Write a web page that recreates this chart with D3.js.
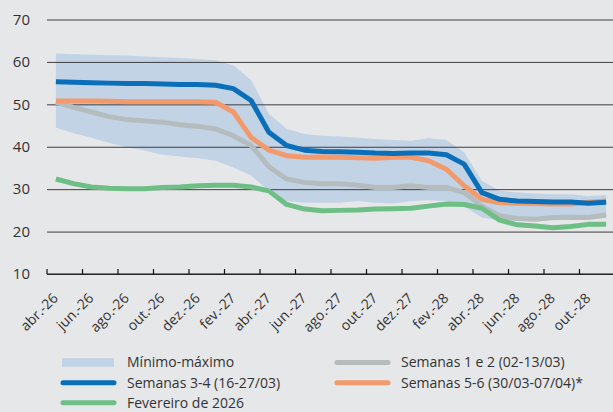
<!DOCTYPE html>
<html><head><meta charset="utf-8">
<script src="https://cdn.jsdelivr.net/npm/d3@7"></script>
<style>
html,body{margin:0;padding:0;background:#e6e7e9;}
svg{display:block;}
text{font-family:"Open Sans","Noto Sans",sans-serif;fill:#333;}
</style></head>
<body><svg id="c" width="613" height="412"></svg>
<script>
const months = ["abr.-26","mai.-26","jun.-26","jul.-26","ago.-26","set.-26","out.-26","nov.-26","dez.-26","jan.-27","fev.-27","mar.-27",
"abr.-27","mai.-27","jun.-27","jul.-27","ago.-27","set.-27","out.-27","nov.-27","dez.-27","jan.-28","fev.-28","mar.-28",
"abr.-28","mai.-28","jun.-28","jul.-28","ago.-28","set.-28","out.-28","nov.-28"];
const tickLabels = ["abr.-26","jun.-26","ago.-26","out.-26","dez.-26","fev.-27","abr.-27","jun.-27","ago.-27","out.-27","dez.-27","fev.-28","abr.-28","jun.-28","ago.-28","out.-28"];
const yTicks = [10,20,30,40,50,60,70];

const bandMax = [62.0,61.8,61.7,61.6,61.5,61.3,61.1,60.9,60.7,60.4,59.2,55.7,47.8,44.2,43.0,42.6,42.4,42.1,41.8,41.6,41.4,42.0,41.6,38.7,32.0,29.6,29.2,29.0,28.8,28.8,28.4,28.6];
const bandMin = [44.5,43.2,42.1,40.9,39.9,39.1,38.1,37.7,37.3,36.7,35.1,33.2,29.6,27.2,26.8,26.8,26.8,27.2,26.8,26.6,27.2,27.4,27.2,26.0,23.3,22.6,22.5,22.5,22.7,22.8,22.9,23.2];
const sem12 = [50.5,49.3,48.2,47.1,46.4,46.1,45.8,45.2,44.8,44.2,42.6,40.3,35.3,32.4,31.6,31.3,31.3,30.9,30.4,30.4,30.8,30.4,30.4,29.2,26.0,23.7,23.1,22.9,23.3,23.4,23.3,23.9];
const sem34 = [55.3,55.2,55.1,55.0,54.9,54.9,54.8,54.7,54.7,54.5,53.7,50.9,43.4,40.3,39.2,38.9,38.8,38.7,38.5,38.4,38.5,38.5,38.1,35.9,29.2,27.6,27.2,27.1,27.0,27.0,26.7,26.9];
const sem56 = [50.8,50.8,50.8,50.7,50.6,50.6,50.6,50.6,50.6,50.5,48.2,42.2,39.2,37.9,37.5,37.6,37.5,37.4,37.3,37.5,37.5,36.7,34.7,30.8,27.6,26.8,26.7,26.6,26.5,26.5,26.9,27.2];
const fev26 = [32.4,31.3,30.5,30.2,30.1,30.1,30.4,30.5,30.8,30.9,30.9,30.5,29.6,26.4,25.3,24.9,25.0,25.1,25.3,25.4,25.5,26.0,26.5,26.4,25.5,22.7,21.6,21.3,20.9,21.2,21.7,21.7];

const legendLabels = ["Mínimo-máximo","Semanas 1 e 2 (02-13/03)","Semanas 3-4 (16-27/03)","Semanas 5-6 (30/03-07/04)*","Fevereiro de 2026"];
const colors = {band:"#c2d3e6", s12:"#b5bcbe", s34:"#0a6fb8", s56:"#f39a6c", fev:"#6dbf85"};

const svg = d3.select("#c");
const x = d3.scaleBand().domain(months).range([47,615]).padding(0);
const cx = d => x(d) + x.bandwidth()/2;
const y = d3.scaleLinear().domain([10,70]).range([274,19.5]);

// band
const area = d3.area().x((d,i)=>cx(months[i])).y0((d,i)=>y(bandMin[i])).y1(d=>y(d));
svg.append("path").datum(bandMax).attr("d",area).attr("fill",colors.band);

// gridlines
const yAxis = d3.axisLeft(y).tickValues(yTicks).tickSize(-(613-47)).tickPadding(17).tickFormat(d3.format("d"));
const gy = svg.append("g").attr("transform","translate(47,0)").call(yAxis);
gy.select(".domain").remove();
gy.selectAll(".tick line").attr("stroke","#3f3f3f").attr("stroke-width",1).attr("x2",613-47);
gy.selectAll(".tick text").attr("font-size",15).attr("fill","#333").style("font-family","'Open Sans',sans-serif");

// x axis
const xAxis = d3.axisBottom(x).tickSize(0).tickFormat("");
const gx = svg.append("g").attr("transform","translate(0,274)").call(xAxis);
gx.select(".domain").attr("stroke","#111").attr("stroke-width",1.2).attr("d","M47,0H613");
gx.selectAll(".tick").remove();
const tickMonths = months.filter((m,i)=>i%2===0);
gx.selectAll("line.tk").data(tickMonths).enter().append("line")
  .attr("x1",d=>x(d)).attr("x2",d=>x(d)).attr("y1",0).attr("y2",-5).attr("stroke","#111").attr("stroke-width",1.2);
gx.selectAll("text.tl").data(tickLabels).enter().append("text")
  .attr("transform",d=>`translate(${cx(d)+3},${25}) rotate(-45)`)
  .attr("text-anchor","end").attr("font-size",14).text(d=>d);

// lines
const line = d3.line().x((d,i)=>cx(months[i])).y(d=>y(d)).curve(d3.curveLinear);
[[sem12,colors.s12],[sem56,colors.s56],[sem34,colors.s34],[fev26,colors.fev]].forEach(([data,c])=>{
  svg.append("path").datum(data).attr("d",line).attr("fill","none").attr("stroke",c)
    .attr("stroke-width",5).attr("stroke-linejoin","round").attr("stroke-linecap","butt");
});

// legend
const leg = svg.append("g");
const items = [
  {t:legendLabels[0],c:colors.band,type:"rect",x:62,y:362.5},
  {t:legendLabels[1],c:colors.s12,type:"line",x:336,y:362.5},
  {t:legendLabels[2],c:colors.s34,type:"line",x:62,y:382.7},
  {t:legendLabels[3],c:colors.s56,type:"line",x:336,y:382.7},
  {t:legendLabels[4],c:colors.fev,type:"line",x:62,y:402.7}
];
items.forEach(it=>{
  if(it.type==="rect"){
    leg.append("rect").attr("x",it.x).attr("y",it.y-4.3).attr("width",52).attr("height",8.6).attr("fill",it.c);
  } else {
    leg.append("line").attr("x1",it.x+1).attr("x2",it.x+52).attr("y1",it.y).attr("y2",it.y)
      .attr("stroke",it.c).attr("stroke-width",5).attr("stroke-linecap","round");
  }
  leg.append("text").attr("x",it.x+65).attr("y",it.y).attr("dy","0.35em").attr("font-size",14).text(it.t);
});
</script></body></html>
